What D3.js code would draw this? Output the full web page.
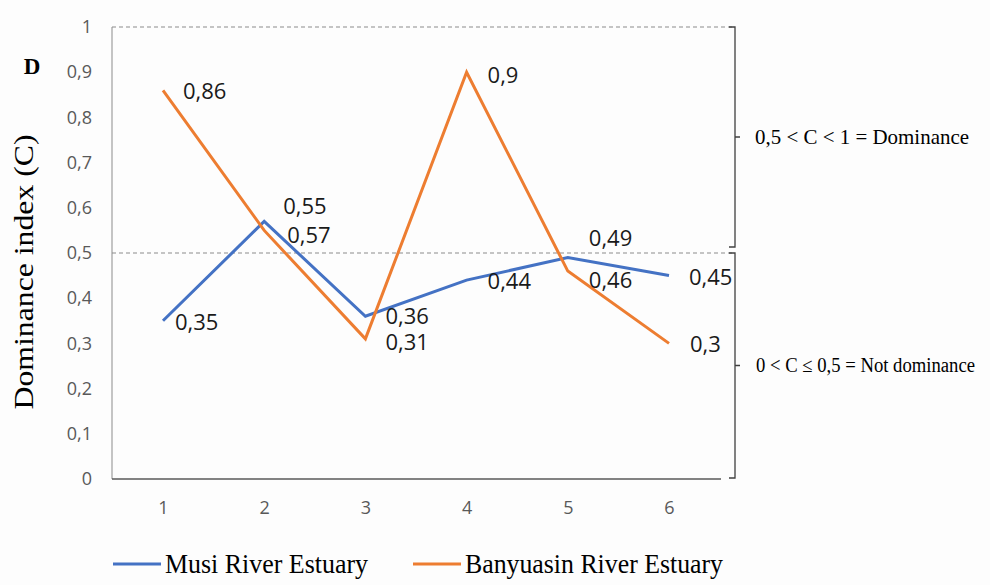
<!DOCTYPE html>
<html><head><meta charset="utf-8">
<script src="https://cdn.jsdelivr.net/npm/d3@7/dist/d3.min.js"></script>
<style>body{margin:0;background:#fdfdfd}</style>
</head><body>
<svg id="chart" width="990" height="585"></svg>
<script>
const categories = ["1","2","3","4","5","6"];
const musi = [0.35, 0.57, 0.36, 0.44, 0.49, 0.45];
const banyuasin = [0.86, 0.55, 0.31, 0.90, 0.46, 0.30];
const yTicks = [0,0.1,0.2,0.3,0.4,0.5,0.6,0.7,0.8,0.9,1];
const seriesNames = ["Musi River Estuary","Banyuasin River Estuary"];
const zoneLabels = ["0,5 < C < 1 = Dominance","0 < C \u2264 0,5 = Not dominance"];
// label offsets (pixels, relative to point) – layout only
const musiLabelOff = [[12,1],[23,14],[20,0],[21,1],[21,-19],[20,1]];
const banLabelOff = [[20,1],[19,-24],[20,3],[21,3],[21,9],[21,1]];

const svg = d3.select("#chart");
const fmt = v => String(v).replace(".", ",");
const x = d3.scalePoint().domain(categories).range([163, 669]);
const y = d3.scaleLinear().domain([0,1]).range([479, 27]);

// left axis line
svg.append("line").attr("x1",112).attr("x2",112).attr("y1",y(1)).attr("y2",y(0)).attr("stroke","#a6a6a6").attr("stroke-width",1.3);
// x axis
svg.append("line").attr("x1",112).attr("x2",721).attr("y1",y(0)).attr("y2",y(0)).attr("stroke","#595959").attr("stroke-width",1.5);

// dashed lines
[1,0.5].forEach(v=>{
  svg.append("line").attr("x1",112).attr("x2",733).attr("y1",y(v)).attr("y2",y(v))
    .attr("stroke","#8c8c8c").attr("stroke-width",1.2).attr("stroke-dasharray","4,3");
});

// y tick labels
const yAxis = d3.axisLeft(y).tickValues(yTicks).tickSize(0).tickPadding(0).tickFormat(fmt);
const ya = svg.append("g").attr("transform","translate(92,0)").call(yAxis);
ya.select(".domain").remove();
ya.selectAll("text").attr("font-family","Open Sans").attr("font-size",18).attr("fill","#595959");

// x tick labels
const xAxis = d3.axisBottom(x).tickSize(0).tickPadding(0);
const xa = svg.append("g").attr("transform","translate(0,501)").call(xAxis);
xa.select(".domain").remove();
xa.selectAll("text").attr("font-family","Open Sans").attr("font-size",18).attr("fill","#595959");

// brackets
const bx = 735;
function bracket(v1, v2, off1, off2){
  const y1 = y(v1)+off1, y2 = y(v2)+off2, ym = (y1+y2)/2;
  svg.append("path").attr("d",`M${bx-6},${y1}H${bx}V${y2}H${bx-6}M${bx},${ym}H${bx+5}`)
    .attr("fill","none").attr("stroke","#404040").attr("stroke-width",1.3);
  return ym;
}
const ym1 = bracket(1, 0.5, 0, -6);
const ym2 = bracket(0.5, 0, 0, -1);
svg.append("text").attr("x",755).attr("y",ym1).attr("dy","0.33em").attr("font-family","Liberation Serif").attr("font-size",21)
  .attr("textLength",214).attr("lengthAdjust","spacingAndGlyphs").attr("fill","#000").text(zoneLabels[0]);
svg.append("text").attr("x",756).attr("y",ym2).attr("dy","0.33em").attr("font-family","Liberation Serif").attr("font-size",20)
  .attr("textLength",219).attr("lengthAdjust","spacingAndGlyphs").attr("fill","#000").text(zoneLabels[1]);

// lines
const line = d3.line().x((d,i)=>x(categories[i])).y(d=>y(d));
svg.append("path").datum(musi).attr("d",line).attr("fill","none").attr("stroke","#4472C4").attr("stroke-width",3).attr("stroke-linejoin","miter");
svg.append("path").datum(banyuasin).attr("d",line).attr("fill","none").attr("stroke","#ED7D31").attr("stroke-width",3).attr("stroke-linejoin","miter");

// data labels
function labels(data, offs){
  data.forEach((v,i)=>{
    svg.append("text").attr("x",x(categories[i])+offs[i][0]).attr("y",y(v)+offs[i][1])
      .attr("dy","0.36em").attr("font-family","Open Sans").attr("font-size",22).attr("fill","#1a1a1a").text(fmt(v));
  });
}
labels(musi, musiLabelOff);
labels(banyuasin, banLabelOff);

// y axis title
svg.append("text").attr("transform","translate(33,272) rotate(-90)").attr("text-anchor","middle")
  .attr("font-family","Liberation Serif").attr("font-size",28).attr("textLength",275).attr("lengthAdjust","spacingAndGlyphs")
  .attr("fill","#000").text("Dominance index (C)");
// panel letter
svg.append("text").attr("x",32).attr("y",66).attr("dy","0.35em").attr("text-anchor","middle")
  .attr("font-family","Liberation Serif").attr("font-weight","bold").attr("font-size",23).attr("fill","#000").text("D");

// legend
const colors = ["#4472C4","#ED7D31"];
const lx = [113, 413];
const tl = [203, 258];
seriesNames.forEach((n,i)=>{
  svg.append("line").attr("x1",lx[i]).attr("x2",lx[i]+48).attr("y1",564).attr("y2",564).attr("stroke",colors[i]).attr("stroke-width",3);
  svg.append("text").attr("x",lx[i]+52).attr("y",564).attr("dy","0.33em").attr("font-family","Liberation Serif")
    .attr("font-size",27).attr("textLength",tl[i]).attr("lengthAdjust","spacingAndGlyphs").attr("fill","#000").text(n);
});
</script>
</body></html>
